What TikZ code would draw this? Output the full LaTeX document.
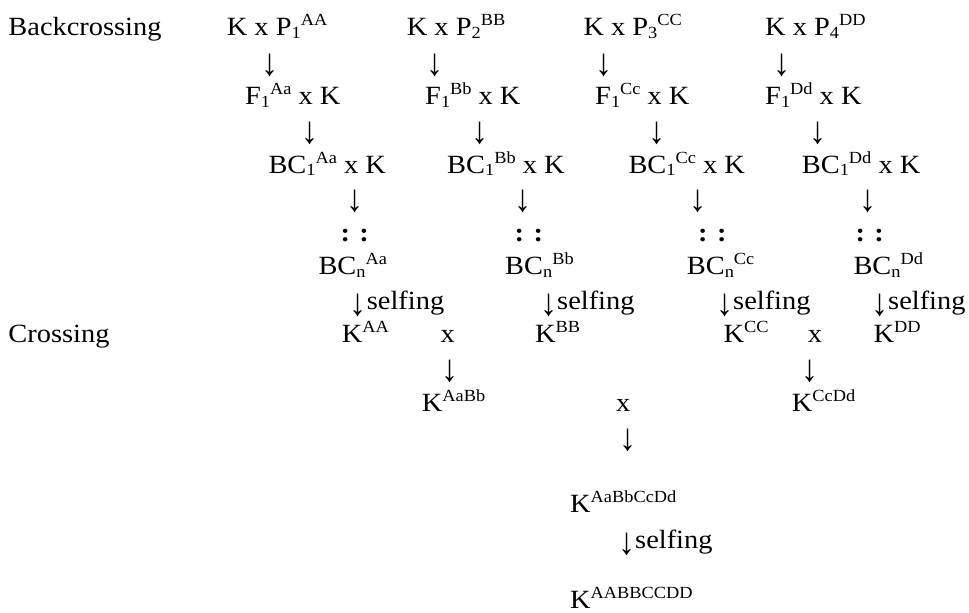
\documentclass[tikz,border=0pt]{standalone}
\usepackage{fontspec}
\usepackage{graphicx}
\setmainfont[FakeStretch=1.08]{Liberation Serif}
% lowered and raised small text that follows the main letter
\newcommand\lo[1]{\raisebox{-2.4bp}{\fontsize{17bp}{18bp}\selectfont #1}}
\newcommand\hi[1]{\raisebox{10bp}{\fontsize{17bp}{18bp}\selectfont #1}}
% tall down arrow
\newcommand\dn{\raisebox{-6bp}{\scalebox{1.2}[1.45]{↓}}}
\begin{document}
\begin{tikzpicture}[x=1bp,y=-1bp,
  lbl/.style={anchor=base west, inner sep=0pt, font=\fontsize{26.3bp}{30bp}\selectfont},
  arr/.style={anchor=base, inner sep=0pt, font=\fontsize{26.3bp}{30bp}\selectfont},
  dotrow/.style={anchor=base west, inner sep=0pt, font=\fontsize{26.3bp}{30bp}\selectfont\bfseries}]
\useasboundingbox (0,0) rectangle (969,613);

% row titles
\node[lbl] (back)  at (8.3,35.7) {Backcrossing};
\node[lbl] (cross) at (8.3,342)  {Crossing};

% ---- line A ----
\node[lbl] (a0) at (226.7,35.7) {K x P\lo{1}\hi{AA}};
\node[arr] (a0d) at (270,69.5) {\dn};
\node[lbl] (a1) at (245,105) {F\lo{1}\hi{Aa} x K};
\node[arr] (a1d) at (310,137.5) {\dn};
\node[lbl] (a2) at (268.3,173.3) {BC\lo{1}\hi{Aa} x K};
\node[arr] (a2d) at (355,205.5) {\dn};
\node[dotrow] (a3) at (340.3,242) {: :};
\node[lbl] (an) at (318.3,275) {BC\lo{n}\hi{Aa}};
\node[lbl] (as) at (366.7,309) {\llap{\dn}selfing};
\node[lbl] (aK) at (341.7,342) {K\hi{AA}};

% ---- line B ----
\node[lbl] (b0) at (406.7,35.7) {K x P\lo{2}\hi{BB}};
\node[arr] (b0d) at (435,69.5) {\dn};
\node[lbl] (b1) at (425,105) {F\lo{1}\hi{Bb} x K};
\node[arr] (b1d) at (480,137.5) {\dn};
\node[lbl] (b2) at (447,173.3) {BC\lo{1}\hi{Bb} x K};
\node[arr] (b2d) at (523.3,205.5) {\dn};
\node[dotrow] (b3) at (514.5,242) {: :};
\node[lbl] (bn) at (505,275) {BC\lo{n}\hi{Bb}};
\node[lbl] (bs) at (557,309) {\llap{\dn}selfing};
\node[lbl] (bK) at (535,342) {K\hi{BB}};

% ---- line C ----
\node[lbl] (c0) at (583.3,35.7) {K x P\lo{3}\hi{CC}};
\node[arr] (c0d) at (604,69.5) {\dn};
\node[lbl] (c1) at (595,105) {F\lo{1}\hi{Cc} x K};
\node[arr] (c1d) at (656.7,137.5) {\dn};
\node[lbl] (c2) at (628.3,173.3) {BC\lo{1}\hi{Cc} x K};
\node[arr] (c2d) at (698.3,205.5) {\dn};
\node[dotrow] (c3) at (698,242) {: :};
\node[lbl] (cn) at (686.7,275) {BC\lo{n}\hi{Cc}};
\node[lbl] (cs) at (733,309) {\llap{\dn}selfing};
\node[lbl] (cK) at (723.3,342) {K\hi{CC}};

% ---- line D ----
\node[lbl] (d0) at (765,35.7) {K x P\lo{4}\hi{DD}};
\node[arr] (d0d) at (781.7,69.5) {\dn};
\node[lbl] (d1) at (765,105) {F\lo{1}\hi{Dd} x K};
\node[arr] (d1d) at (818.3,137.5) {\dn};
\node[lbl] (d2) at (801.7,173.3) {BC\lo{1}\hi{Dd} x K};
\node[arr] (d2d) at (868.3,205.5) {\dn};
\node[dotrow] (d3) at (855.3,242) {: :};
\node[lbl] (dn) at (853.3,275) {BC\lo{n}\hi{Dd}};
\node[lbl] (ds) at (888,309) {\llap{\dn}selfing};
\node[lbl] (dK) at (873.3,342) {K\hi{DD}};

% ---- crossing ----
\node[arr] (xab) at (447.7,342) {x};
\node[arr] (xabd) at (450,375.5) {\dn};
\node[lbl] (kab) at (421.7,411) {K\hi{AaBb}};

\node[arr] (xcd) at (815,342) {x};
\node[arr] (xcdd) at (810,375.5) {\dn};
\node[lbl] (kcd) at (791.7,411) {K\hi{CcDd}};

\node[arr] (xall) at (623.3,411) {x};
\node[arr] (xalld) at (627.7,444.5) {\dn};
\node[lbl] (kall) at (570,512) {K\hi{AaBbCcDd}};
\node[lbl] (sall) at (635,548) {\llap{\dn}selfing};
\node[lbl] (kfin) at (570,608.5) {K\hi{AABBCCDD}};
\end{tikzpicture}
\end{document}
